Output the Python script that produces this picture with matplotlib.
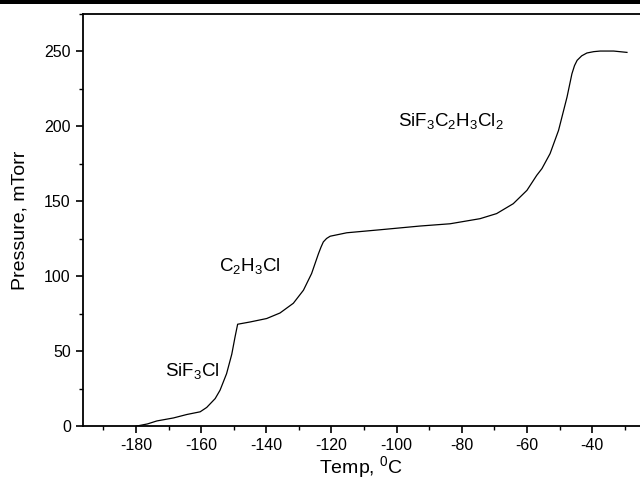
import matplotlib
matplotlib.use("Agg")
import matplotlib.pyplot as plt
from matplotlib.patches import Rectangle
from matplotlib.ticker import MultipleLocator

plt.rcParams["font.family"] = ["Liberation Sans", "DejaVu Sans"]
plt.rcParams["mathtext.fontset"] = "custom"
plt.rcParams["mathtext.rm"] = "Liberation Sans"
plt.rcParams["mathtext.it"] = "Liberation Sans"
plt.rcParams["axes.unicode_minus"] = False

# temperature (C) and pressure (mTorr)
temp = [-180.0, -176.5, -173.6, -168.5, -164.4, -160.3, -158.3, -155.7, -154.2,
        -152.2, -150.6, -149.6, -148.8, -145.0, -139.9, -135.8, -131.7, -128.6,
        -126.1, -124.0, -123.2, -122.5, -121.5, -120.4, -115.3, -105.1, -92.8,
        -83.6, -74.4, -69.3, -64.2, -60.0, -57.0, -55.4, -52.9, -50.3, -47.7,
        -46.2, -45.4, -44.6, -43.2, -41.6, -39.5, -37.5, -33.4, -29.3]
pressure = [0.0, 1.5, 3.5, 5.5, 7.8, 9.6, 12.5, 18.4, 24.0,
            35.0, 48.0, 59.5, 68.0, 69.5, 71.8, 75.5, 82.0, 90.7,
            101.8, 115.0, 119.5, 122.9, 125.2, 126.7, 129.0, 131.0, 133.5,
            135.0, 138.4, 141.8, 148.4, 157.3, 167.3, 171.8, 181.8, 197.3, 219.5,
            235.0, 240.5, 244.0, 247.0, 248.9, 249.8, 250.2, 250.2, 249.3]

labels = [r"SiF$_3$Cl", r"C$_2$H$_3$Cl", r"SiF$_3$C$_2$H$_3$Cl$_2$"]
label_t = [-171.1, -154.5, -99.5]
label_p = [36.5, 107.0, 203.5]

fig = plt.figure(figsize=(6.4, 4.95), dpi=100)
ax = fig.add_axes([0.129, 0.139, 0.871, 0.833])

ax.plot(temp, pressure, color="black", linewidth=0.9)

for txt, t, p in zip(labels, label_t, label_p):
    ax.text(t, p, txt, fontsize=13.5, ha="left", va="center")

ax.set_xlim(-196.4, -25.3)
ax.set_ylim(0, 275)
ax.xaxis.set_major_locator(MultipleLocator(20))
ax.xaxis.set_minor_locator(MultipleLocator(10))
ax.yaxis.set_major_locator(MultipleLocator(50))
ax.yaxis.set_minor_locator(MultipleLocator(25))
ax.tick_params(which="major", direction="out", length=5, width=1.2, labelsize=11.5)
ax.tick_params(which="minor", direction="out", length=3, width=1.0)
ax.tick_params(top=False, right=False)
for s in ax.spines.values():
    s.set_linewidth(1.3)
ax.spines["right"].set_visible(False)

ax.set_xlabel(r"Temp, $^0$C", fontsize=14, labelpad=1)
ax.set_ylabel("Pressure, mTorr", fontsize=14, labelpad=11)

# thick page rule along the top edge
fig.add_artist(Rectangle((0, 1 - 4 / 495), 1, 4 / 495, transform=fig.transFigure,
                         color="black", linewidth=0))

plt.savefig("out.png", dpi=100)
